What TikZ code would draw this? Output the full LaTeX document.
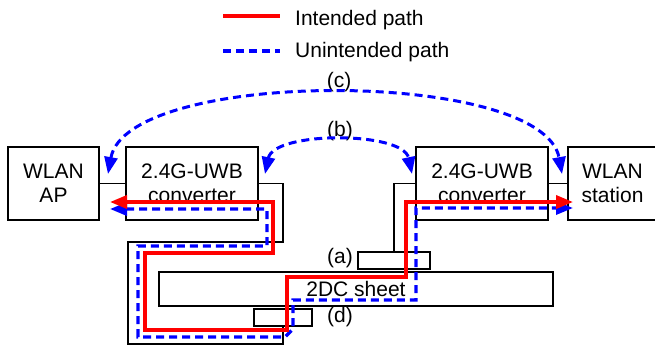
\documentclass[tikz,border=0pt]{standalone}
\usepackage{fontspec}
\setmainfont{Liberation Sans}
\usetikzlibrary{arrows.meta}

\tikzset{
  box/.style={draw, line width=1.2pt, inner sep=0pt, outer sep=0pt, align=center,
    anchor=north west, font=\fontsize{21}{24}\selectfont},
  lbl/.style={inner sep=0pt, font=\fontsize{21}{24}\selectfont},
  cable/.style={line width=1.2pt},
  tips/.style={{Triangle[length=17pt,width=13pt]}-{Triangle[length=17pt,width=13pt]}},
  intended/.style={draw=red, line width=3.5pt},
  unintended/.style={draw=blue, line width=3.3pt, dash pattern=on 8pt off 5pt},
}

\begin{document}
\begin{tikzpicture}[x=1pt, y=-1pt]
	
	\useasboundingbox (0,0) rectangle (655,346);
	\clip (0,0) rectangle (655,346);
	
	% Legende
	\coordinate (legA) at (223,16);
	\coordinate (legB) at (223,51);
	\draw[intended] (legA) -- ++(57,0);
	\draw[unintended] (legB) -- ++(57,0);
	\node[lbl, anchor=base west] (legtxtA) at (295,25) {Intended path};
	\node[lbl, anchor=base west] (legtxtB) at (295,57) {Unintended path};
	
	% Geraete
	\node[box, minimum width=91pt, minimum height=73pt] (ap) at (8,147) {WLAN\\AP};
	\node[box, minimum width=132pt, minimum height=73pt] (convA) at (126,147) {2.4G-UWB\\converter};
	\node[box, minimum width=132pt, minimum height=73pt] (convB) at (416,147) {2.4G-UWB\\converter};
	\node[box, minimum width=89pt, minimum height=73pt] (sta) at (568,147) {WLAN\\station};
	
	% 2DC sheet und Koppler
	\node[box, minimum width=394pt, minimum height=34pt] (sheet) at (159,272) {2DC sheet};
	\node[box, minimum width=72pt, minimum height=17pt] (cplA) at (358,252) {};
	\node[box, minimum width=58pt, minimum height=17pt] (cplD) at (254,309) {};
	
	% Beschriftungen
	\node[lbl] (labA) at (340,258) {(a)};
	\node[lbl] (labB) at (340,131) {(b)};
	\node[lbl] (labC) at (339,82) {(c)};
	\node[lbl] (labD) at (340,317) {(d)};
	
	% Kabel
	\coordinate (feedD) at (283,344);
	\draw[cable] (ap) -- (convA);
	\draw[cable] (convB) -- (sta);
	\draw[cable] (convA.east) -- ++(25,0) |- (128,242) |- (feedD) -- (feedD |- cplD.south);
	\draw[cable] (convB.west) -| (cplA.north);
	
	% Pfade
	\coordinate (redA) at (110,202);
	\coordinate (redB) at (573,202);
	\coordinate (bluA) at (110,209);
	\coordinate (bluB) at (573,208);
	\draw[unintended, tips] (bluA) -| (267,246) -| (138,337) -- (285,337) -- (293,329) |- (416,300) |- (bluB);
	\draw[intended, tips] (redA) -| (273,253) -| (145,330) -| (287,277) -| (406,202) -- (redB);
	
	% Kopplung ueber Luft
	\coordinate (arcBL) at (265,174);
	\coordinate (arcBR) at (412,174);
	\coordinate (arcCL) at (108,174);
	\coordinate (arcCR) at (562,174);
	\draw[unintended, line width=3pt, tips] (arcBL) .. controls (274,131) and (403,131) .. (arcBR);
	\draw[unintended, line width=3pt, tips] (arcCL) .. controls (127,68) and (543,68) .. (arcCR);
	
\end{tikzpicture}
\end{document}
